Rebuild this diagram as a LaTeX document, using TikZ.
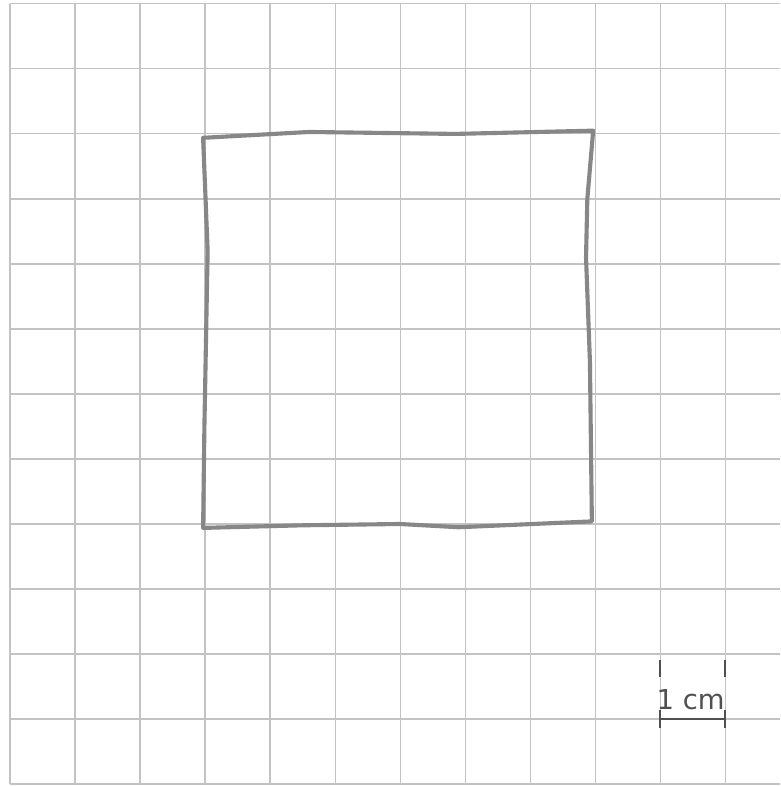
\documentclass[tikz,border=0pt]{standalone}
\usepackage{fontspec}
\newfontfamily\labelfont{DejaVu Sans}
\usetikzlibrary{positioning}
\definecolor{gridgray}{RGB}{195,195,195}
\definecolor{pencil}{RGB}{135,135,135}
\definecolor{inkgray}{RGB}{80,80,80}
\begin{document}
\begin{tikzpicture}

		\useasboundingbox (-0.154,-0.03) rectangle (11.846,12.06);
		\fill[white] (-0.154,-0.03) rectangle (11.846,12.06);

		\draw[gridgray, line width=0.5pt] (0,0) grid (11,12);
		\foreach \y in {0,...,12}
			\draw[gridgray, line width=0.5pt] (11,\y) -- (11.846,\y);

		\draw[pencil, line width=1.8pt, line join=round] (2.97,9.94) -- (4.6,10.03) -- (6.85,10.0) -- (8.97,10.05)
			-- (8.88,9.0) -- (8.86,8.1) -- (8.92,6.5) -- (8.95,4.04)
			-- (6.9,3.95) -- (6.0,4.0) -- (4.5,3.98) -- (2.97,3.94)
			-- (2.99,5.5) -- (3.04,8.2) -- cycle;

		\coordinate (barL) at (10,1);
		\coordinate (barR) at (11,1);
		\draw[inkgray, line width=0.8pt] (barL) -- (barR);
		\draw[inkgray, line width=0.8pt] ([yshift=-0.14cm]barL) -- ([yshift=0.14cm]barL);
		\draw[inkgray, line width=0.8pt] ([yshift=-0.14cm]barR) -- ([yshift=0.14cm]barR);
		\draw[inkgray, line width=0.6pt] (10,1.91) -- (10,1.65);
		\draw[inkgray, line width=0.6pt] (11,1.91) -- (11,1.65);
		\node[inkgray, inner sep=0pt, font=\labelfont\fontsize{12}{14}\selectfont] (scale) at (10.47,1.3) {1 cm};

	\end{tikzpicture}
\end{document}
